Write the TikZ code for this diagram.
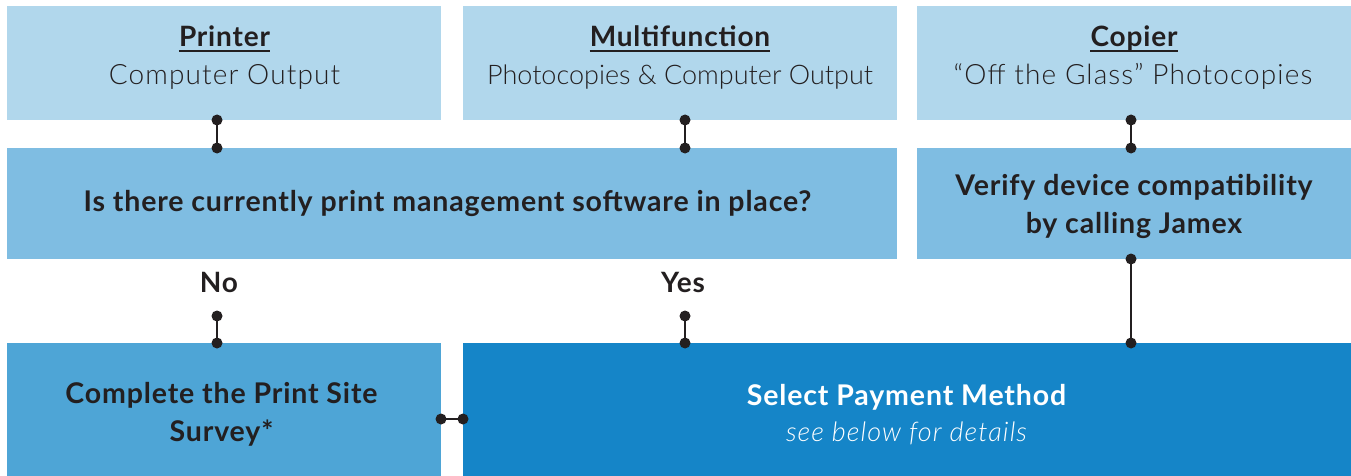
\documentclass[tikz,border=0pt]{standalone}
\usepackage{fontspec}
\setmainfont{Lato}[LetterSpace=3]
\newfontfamily\lightfont{Lato Light}[LetterSpace=4]
\newfontfamily\lighttight{Lato Light}
\definecolor{ink}{HTML}{231F20}
\definecolor{cA}{HTML}{B1D7EC}
\definecolor{cB}{HTML}{7FBDE2}
\definecolor{cC}{HTML}{4EA5D6}
\definecolor{cD}{HTML}{1585C8}
\tikzset{
  box/.style={draw=none, inner sep=0pt, anchor=north west},
  ttl/.style={inner sep=0pt, anchor=base, text=ink, font=\fontsize{28}{34}\selectfont\bfseries},
  sub/.style={inner sep=0pt, anchor=base, text=ink, font=\fontsize{28}{34}\selectfont\lightfont},
  bold/.style={inner sep=0pt, anchor=base, text=ink, font=\fontsize{28.5}{34}\selectfont\bfseries},
  lbl/.style={inner sep=0pt, anchor=base, text=ink, font=\fontsize{28}{34}\selectfont\bfseries},
  conn/.style={line width=2.5pt, draw=ink},
  uline/.style={line width=2pt, draw=ink}
}
\newcommand{\linkdots}[2]{\draw[conn] (#1) -- (#2); \fill[ink] (#1) circle (5.5pt) (#2) circle (5.5pt);}
\begin{document}
\begin{tikzpicture}[x=1pt,y=-1pt]
\useasboundingbox[fill=white] (0,0) rectangle (1351,476);
% boxes
\node[box, fill=cA, minimum width=434pt, minimum height=114pt] (printer) at (7,6) {};
\node[box, fill=cA, minimum width=434pt, minimum height=114pt] (multi) at (463,6) {};
\node[box, fill=cA, minimum width=434pt, minimum height=114pt] (copier) at (917,6) {};
\node[box, fill=cB, minimum width=890pt, minimum height=111pt] (question) at (7,148) {};
\node[box, fill=cB, minimum width=434pt, minimum height=111pt] (verify) at (917,148) {};
\node[box, fill=cC, minimum width=434pt, minimum height=133pt] (survey) at (7,343) {};
\node[box, fill=cD, minimum width=888pt, minimum height=133pt] (payment) at (463,343) {};
% texts
\node[ttl] (t1) at (224.5,47) {Printer};
\node[sub] (s1) at (224.5,85) {Computer Output};
\node[ttl] (t2) at (680,47) {Multifunction};
\node[sub, font=\fontsize{27}{32}\selectfont\lighttight] (s2) at (680,85) {Photocopies \& Computer Output};
\node[ttl] (t3) at (1134,47) {Copier};
\node[sub] (s3) at (1133,85) {“Off the Glass” Photocopies};
\foreach \t in {t1,t2,t3}{\draw[uline] ([yshift=-4pt]\t.base west) -- ([yshift=-4pt]\t.base east);}
\node[bold] (q) at (447.5,211) {Is there currently print management software in place?};
\node[bold] (v1) at (1134,195) {Verify device compatibility};
\node[bold] (v2) at (1134,233) {by calling Jamex};
\node[lbl] (no) at (219,292) {No};
\node[lbl] (yes) at (683,292) {Yes};
\node[bold] (c1) at (221.5,403) {Complete the Print Site};
\node[bold] (c2) at (221.5,441) {Survey*};
\node[inner sep=0pt, anchor=base, text=white, font=\fontsize{28.5}{34}\selectfont\bfseries] (p1) at (906.5,405) {Select Payment Method};
\node[inner sep=0pt, anchor=base, text=white, font=\fontsize{27}{32}\selectfont\lightfont\itshape] (p2) at (906.5,441) {see below for details};
% connector points
\coordinate (a1) at (217,120); \coordinate (a2) at (217,148);
\coordinate (b1) at (685,120); \coordinate (b2) at (685,148);
\coordinate (d1) at (1131,120); \coordinate (d2) at (1131,148);
\coordinate (e1) at (1131,259); \coordinate (e2) at (1131,343);
\coordinate (f1) at (217,316); \coordinate (f2) at (217,343);
\coordinate (g1) at (685,316); \coordinate (g2) at (685,343);
\coordinate (h1) at (441,419); \coordinate (h2) at (463,419);
\linkdots{a1}{a2}
\linkdots{b1}{b2}
\linkdots{d1}{d2}
\linkdots{e1}{e2}
\linkdots{f1}{f2}
\linkdots{g1}{g2}
\linkdots{h1}{h2}
\end{tikzpicture}
\end{document}
